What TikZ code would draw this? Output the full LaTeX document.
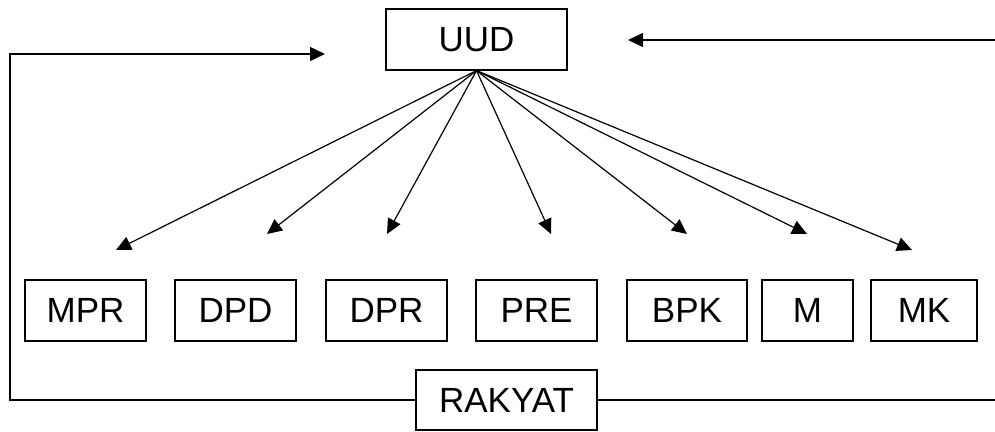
\documentclass[tikz,border=0pt]{standalone}
\usepackage{fontspec}
\setmainfont{Liberation Sans}
\usetikzlibrary{arrows.meta}
\begin{document}
\begin{tikzpicture}[x=1pt,y=-1pt,
  box/.style={draw,line width=1.2pt,inner sep=0pt,minimum height=61pt,font=\fontsize{35}{40}\selectfont},
  conn/.style={line width=1.2pt},
  arr/.style={conn,-{Triangle[length=15pt,width=14pt]}}]
\clip (0,0) rectangle (995,431);
\fill[white] (0,0) rectangle (995,431);
\node[box,minimum width=181pt] (uud) at (476.5,39.5) {UUD};
\node[box,minimum width=121pt] (mpr) at (85.5,310.5) {MPR};
\node[box,minimum width=121pt] (dpd) at (235.5,310.5) {DPD};
\node[box,minimum width=121pt] (dpr) at (386.5,310.5) {DPR};
\node[box,minimum width=121pt] (pre) at (536.5,310.5) {PRE};
\node[box,minimum width=120pt] (bpk) at (687,310.5) {BPK};
\node[box,minimum width=91pt] (m) at (807.5,310.5) {M};
\node[box,minimum width=106pt] (mk) at (924,310.5) {MK};
\node[box,minimum width=181pt,minimum height=60pt] (rakyat) at (506.5,400) {RAKYAT};
\coordinate (tmpr) at (116,250);
\coordinate (tdpd) at (267,234);
\coordinate (tdpr) at (387,234);
\coordinate (tpre) at (551,234);
\coordinate (tbpk) at (687,234);
\coordinate (tm) at (807,234);
\coordinate (tmk) at (912,250);
\coordinate (lcorner) at (10,400);
\coordinate (ltop) at (10,54);
\coordinate (ltip) at (325,54);
\coordinate (rcorner) at (1000,400);
\coordinate (rtop) at (1000,40);
\coordinate (rtip) at (628,40);
\foreach \t in {tmpr,tdpd,tdpr,tpre,tbpk,tm,tmk}
  \draw[arr] (uud.south) -- (\t);
\draw[arr] (rakyat.west) -- (lcorner) -- (ltop) -- (ltip);
\draw[arr] (rakyat.east) -- (rcorner) -- (rtop) -- (rtip);
\end{tikzpicture}
\end{document}
